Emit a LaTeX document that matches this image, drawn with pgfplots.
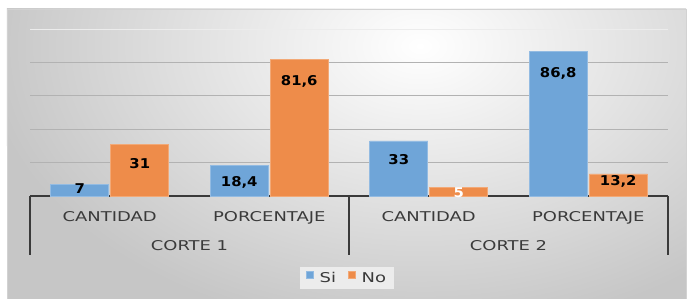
\documentclass[border=0pt]{standalone}
\usepackage{fontspec}
\setmainfont{DejaVu Sans}[FakeStretch=1.33]
\newfontfamily\lblfont{DejaVu Sans}[FakeStretch=1.1]
\usepackage{pgfplots}
\pgfplotsset{compat=1.18}
\usepackage{pgfplotstable}
\definecolor{cSi}{RGB}{111,165,216}
\definecolor{cNo}{RGB}{238,140,74}
\definecolor{txt}{RGB}{58,58,58}

\pgfplotstableread{
x y off lc
0 7 8.7 0
1 18.4 21.7 0
2 33 24.1 0
3 86.8 26 0
}\siTable
\pgfplotstableread{
x y off lc
0 31 23.8 0
1 81.6 25.3 0
2 5 9.4 100
3 13.2 12 0
}\noTable

\begin{document}
\begin{tikzpicture}[font=\fontsize{13.5}{16}\selectfont]
\useasboundingbox (-30pt,-103pt) rectangle (658pt,196pt);
\begin{scope}
\clip (-23pt,-103pt) rectangle (656pt,187pt);
\fill[gray!45] (-23pt,-103pt) rectangle (656pt,187pt);
\shade[inner color=white, outer color=gray!45] (390pt,150pt) ellipse (440pt and 290pt);
\end{scope}
\draw[gray!35, line width=0.8pt] (-23pt,-103pt) rectangle (656pt,187pt);
\begin{axis}[
  at={(0pt,0pt)}, anchor=south west,
  scale only axis, width=638pt, height=167pt,
  xmin=-0.5, xmax=3.5, ymin=0, ymax=100,
  ybar, bar width=58pt,
  axis x line=bottom, axis y line=left,
  x axis line style={-, draw=txt, line width=1.8pt},
  y axis line style={draw=none},
  ytick={20,40,60,80}, yticklabels={}, ymajorgrids,
  grid style={gray!60, line width=0.9pt},
  extra y ticks={100}, extra y tick labels={},
  extra y tick style={grid style={white!85!gray, line width=0.9pt}},
  major tick length=0pt,
  xtick={0,1,2,3}, xticklabels={CANTIDAD,PORCENTAJE,CANTIDAD,PORCENTAJE},
  xticklabel style={anchor=base, yshift=-26pt, text=txt},
  clip=false,
  legend columns=2,
  legend style={at={(0.497,-0.491)}, anchor=center, draw=none, fill=gray!15,
    inner xsep=6pt, inner ysep=3pt,
    font=\fontsize{13.5}{16}\selectfont, text=txt,
    /tikz/every odd column/.append style={column sep=4pt},
    /tikz/every even column/.append style={column sep=10pt}},
  legend image code/.code={\fill[#1] (0pt,-0.5pt) rectangle (7pt,6.5pt);},
  /pgf/number format/use comma,
  /pgf/number format/fixed,
  /pgf/number format/precision=1,
  /pgf/number format/assume math mode=true,
]
\addplot[fill=cSi, draw=cSi!75!white, line width=0.6pt, bar shift=-30pt,
  nodes near coords,
  visualization depends on={\thisrow{off} \as \off},
  visualization depends on={\thisrow{lc} \as \lc},
  every node near coord/.append style={anchor=base, yshift=-\off pt,
    font=\fontsize{13.5}{16}\lblfont\bfseries, text=white!\lc!black}]
  table[x=x,y=y]{\siTable};
\addlegendentry{Si}
\addplot[fill=cNo, draw=cNo!75!white, line width=0.6pt, bar shift=30pt,
  nodes near coords,
  visualization depends on={\thisrow{off} \as \off},
  visualization depends on={\thisrow{lc} \as \lc},
  every node near coord/.append style={anchor=base, yshift=-\off pt,
    font=\fontsize{13.5}{16}\lblfont\bfseries, text=white!\lc!black}]
  table[x=x,y=y]{\noTable};
\addlegendentry{No}
\node[anchor=base, yshift=-55pt, text=txt] at (axis cs:0.5,0) {CORTE 1};
\node[anchor=base, yshift=-55pt, text=txt] at (axis cs:2.5,0) {CORTE 2};
\draw[txt, line width=1.8pt] (axis cs:-0.5,0) -- ++(0pt,-59pt);
\draw[txt, line width=1.8pt] (axis cs:1.5,0) -- ++(0pt,-59pt);
\draw[txt, line width=1.8pt] (axis cs:3.5,0) -- ++(0pt,-59pt);
\end{axis}
\end{tikzpicture}
\end{document}
